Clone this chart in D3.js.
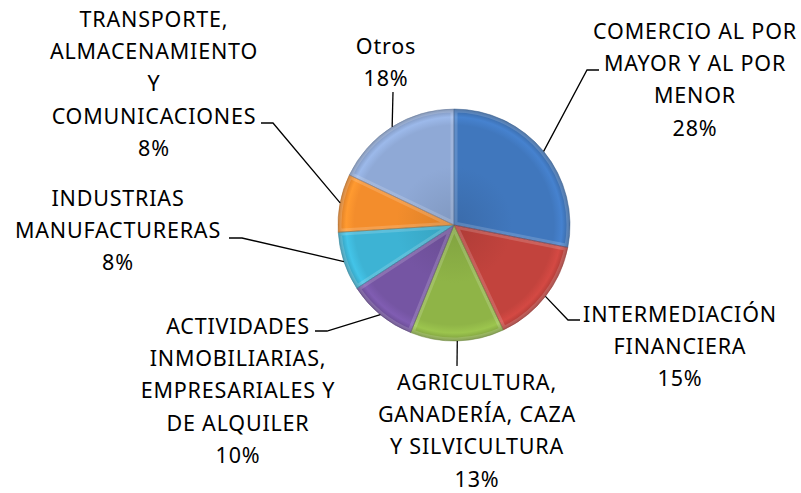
<!DOCTYPE html>
<html>
  <head>
    <meta charset="utf-8">
    <script src="https://d3js.org/d3.v7.min.js"></script>
    <style>
      body { margin:0; background:#fff; }
      text { font-family: "Noto Sans", "Open Sans", sans-serif; font-size: 21.5px; letter-spacing: 0.8px; fill: #000; }
    </style>
  </head>
  <body>
    <script>
    // sector shares (percent), clockwise from 12 o'clock
    var categories = ["COMERCIO AL POR MAYOR Y AL POR MENOR", "INTERMEDIACIÓN FINANCIERA",
      "AGRICULTURA, GANADERÍA, CAZA Y SILVICULTURA", "ACTIVIDADES INMOBILIARIAS, EMPRESARIALES Y DE ALQUILER",
      "INDUSTRIAS MANUFACTURERAS", "TRANSPORTE, ALMACENAMIENTO Y COMUNICACIONES", "Otros"];
    var values = [28.1, 14.9, 13.1, 9.7, 8.2, 8.1, 17.9];
    // label text as it is wrapped in the picture
    var labelLines = [
      ["COMERCIO AL POR", "MAYOR Y AL POR", "MENOR"],
      ["INTERMEDIACIÓN", "FINANCIERA"],
      ["AGRICULTURA,", "GANADERÍA, CAZA", "Y SILVICULTURA"],
      ["ACTIVIDADES", "INMOBILIARIAS,", "EMPRESARIALES Y", "DE ALQUILER"],
      ["INDUSTRIAS", "MANUFACTURERAS"],
      ["TRANSPORTE,", "ALMACENAMIENTO", "Y", "COMUNICACIONES"],
      ["Otros"]
    ];
    var colors = ["#4077bd", "#c2433d", "#8fb447", "#7555a3", "#3db3d4", "#f38d2c", "#8fa9d6"];

    // where each label block sits, and the bend of its leader line
    var layout = [
      {x: 695, y: 30,  elbow: [587, 70],  end: [599, 70]},
      {x: 680, y: 313, elbow: [568, 320], end: [580, 320]},
      {x: 477, y: 381, elbow: null,       end: [457, 366]},
      {x: 238, y: 325, elbow: [327, 331], end: [315, 331]},
      {x: 118, y: 197, elbow: [242, 238], end: [229, 238]},
      {x: 154, y: 18,  elbow: [273, 123], end: [261, 123]},
      {x: 386, y: 45,  elbow: null,       end: [393, 92]}
    ];

    var width = 801, height = 493;
    var cx = 454, cy = 225, radius = 116;
    var lineGap = 32.2;

    var svg = d3.select("body").append("svg")
        .attr("width", width)
        .attr("height", height);

    var defs = svg.append("defs");

    var pie = d3.pie().sort(null).value(function(d) { return d; });
    var arcs = pie(values);
    var arc = d3.arc().innerRadius(0).outerRadius(radius);
    var total = d3.sum(values);
    var pct = d3.format(".0%");

    // bevel look: radial gradient per slice, light band then darker rim
    colors.forEach(function(c, i) {
      var base = d3.color(c);
      var g = defs.append("radialGradient")
          .attr("id", "grad" + i)
          .attr("gradientUnits", "userSpaceOnUse")
          .attr("cx", 0).attr("cy", 0).attr("r", radius);
      g.append("stop").attr("offset", "0").attr("stop-color", base.darker(0.3));
      g.append("stop").attr("offset", "0.5").attr("stop-color", base);
      g.append("stop").attr("offset", "0.86").attr("stop-color", base);
      g.append("stop").attr("offset", "0.93").attr("stop-color", base.brighter(0.25));
      g.append("stop").attr("offset", "0.975").attr("stop-color", base.darker(0.2));
      g.append("stop").attr("offset", "1").attr("stop-color", base.darker(0.7));

      defs.append("clipPath").attr("id", "clip" + i)
        .append("path")
          .attr("d", arc(arcs[i]));
    });

    var slices = svg.append("g").attr("transform", "translate(" + cx + "," + cy + ")");

    slices.selectAll("path.slice")
      .data(arcs)
      .enter()
      .append("path")
        .attr("class", "slice")
        .attr("d", arc)
        .attr("fill", function(d, i) { return "url(#grad" + i + ")"; });

    // soft highlight along the straight edges of each slice
    slices.selectAll("path.edge")
      .data(arcs)
      .enter()
      .append("path")
        .attr("class", "edge")
        .attr("d", arc)
        .attr("clip-path", function(d, i) { return "url(#clip" + i + ")"; })
        .attr("fill", "none")
        .attr("stroke", "#fff")
        .attr("stroke-opacity", 0.16)
        .attr("stroke-width", 7);

    slices.selectAll("path.seam")
      .data(arcs)
      .enter()
      .append("path")
        .attr("class", "seam")
        .attr("d", arc)
        .attr("fill", "none")
        .attr("stroke", function(d, i) { return d3.color(colors[i]).darker(0.9); })
        .attr("stroke-opacity", 0.6)
        .attr("stroke-width", 0.8);

    // leader lines: from slice rim at its mid angle to the label
    var leaders = svg.append("g");
    arcs.forEach(function(a, i) {
      var mid = (a.startAngle + a.endAngle) / 2;
      var p0 = [cx + radius * Math.sin(mid), cy - radius * Math.cos(mid)];
      var L = layout[i];
      var pts = [p0];
      if (L.elbow) pts.push(L.elbow);
      pts.push(L.end);
      leaders.append("path")
        .attr("d", d3.line()(pts))
        .attr("fill", "none")
        .attr("stroke", "#000")
        .attr("stroke-width", 1.3);
    });

    // labels
    var labels = svg.append("g");
    arcs.forEach(function(a, i) {
      var L = layout[i];
      var lines = labelLines[i].concat([pct(values[i] / total)]);
      var t = labels.append("text")
        .attr("text-anchor", "middle")
        .attr("dominant-baseline", "central");
      lines.forEach(function(s, k) {
        t.append("tspan")
          .attr("x", L.x)
          .attr("y", L.y + k * lineGap)
          .text(s);
      });
    });
    </script>
  </body>
</html>
